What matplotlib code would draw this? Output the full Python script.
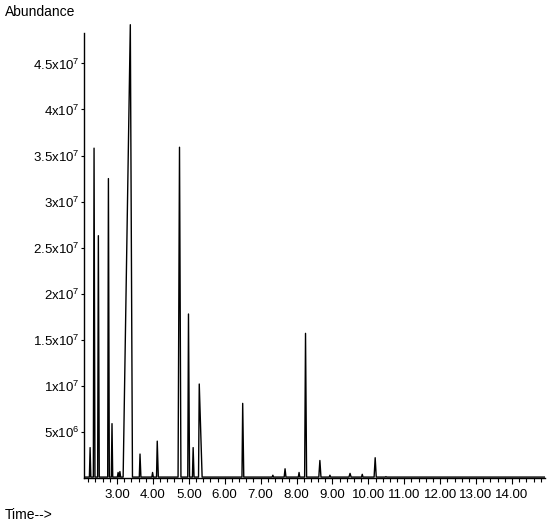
import matplotlib

matplotlib.use("Agg")
import matplotlib.pyplot as plt
from matplotlib.ticker import FixedLocator, MultipleLocator

plt.rcParams["font.family"] = ["Liberation Sans", "DejaVu Sans"]
plt.rcParams["mathtext.fontset"] = "custom"
plt.rcParams["mathtext.rm"] = "Liberation Sans"

# peaks: retention time (min), abundance (x1e6),
# base half-widths left/right (min)
peak_rt = [2.25, 2.36, 2.48, 2.76, 2.86, 3.03, 3.08, 3.37, 3.64, 3.99, 4.12,
           4.74, 4.99, 5.12, 5.29, 6.50, 7.34, 7.68, 8.07, 8.25, 8.65, 8.93,
           9.49, 9.83, 10.19, 10.49]
peak_height = [3.3, 35.8, 26.3, 32.5, 5.9, 0.6, 0.7, 49.2, 2.6, 0.6, 4.0,
               35.9, 17.8, 3.3, 10.2, 8.1, 0.3, 1.0, 0.6, 15.7, 1.9, 0.3,
               0.5, 0.4, 2.2, 0.15]
peak_wl = [0.02, 0.02, 0.02, 0.02, 0.02, 0.02, 0.02, 0.20, 0.02, 0.02, 0.02,
           0.04, 0.02, 0.02, 0.02, 0.02, 0.02, 0.025, 0.02, 0.025, 0.03, 0.02,
           0.03, 0.02, 0.03, 0.02]
peak_wr = [0.02, 0.025, 0.025, 0.025, 0.02, 0.02, 0.02, 0.06, 0.025, 0.02, 0.03,
           0.04, 0.03, 0.025, 0.08, 0.03, 0.02, 0.025, 0.02, 0.03, 0.03, 0.02,
           0.03, 0.02, 0.03, 0.02]
baseline = 0.1
t_start, t_end = 2.10, 14.90

ytick_vals = [5e6, 1e7, 1.5e7, 2e7, 2.5e7, 3e7, 3.5e7, 4e7, 4.5e7]
ytick_labels = ["5x10$^6$", "1x10$^7$", "1.5x10$^7$", "2x10$^7$", "2.5x10$^7$",
                "3x10$^7$", "3.5x10$^7$", "4x10$^7$", "4.5x10$^7$"]
xtick_vals = list(range(3, 15))
xtick_labels = [f"{v:.2f}" for v in xtick_vals]

# trace vertices: baseline - apex - baseline for every peak
ts, ys = [t_start], [baseline]
for rt, h, wl, wr in zip(peak_rt, peak_height, peak_wl, peak_wr):
    ts += [rt - wl, rt, rt + wr]
    ys += [baseline, h, baseline]
ts.append(t_end)
ys.append(baseline)
ys = [v * 1e6 for v in ys]

fig = plt.figure(figsize=(5.5, 5.27), dpi=100)
ax = fig.add_axes([84 / 550, 49 / 527, 461 / 550, 445 / 527])
ax.plot(ts, ys, color="black", lw=1.0, clip_on=False, zorder=3)
ax.set_xlim(2.08, 14.92)
ax.set_ylim(0, 4.83e7)

for s in ("top", "right"):
    ax.spines[s].set_visible(False)
for s in ("left", "bottom"):
    ax.spines[s].set_linewidth(1.0)

ax.yaxis.set_major_locator(FixedLocator(ytick_vals))
ax.set_yticklabels(ytick_labels, fontsize=9.5)
ax.xaxis.set_major_locator(FixedLocator(xtick_vals))
ax.set_xticklabels(xtick_labels, fontsize=9.5)
ax.xaxis.set_minor_locator(MultipleLocator(0.2))
ax.tick_params(axis="y", length=2, width=0.8, pad=1)
ax.tick_params(axis="x", which="major", length=4, width=0.8, pad=4)
ax.tick_params(axis="x", which="minor", length=3, width=0.8)

fig.text(5 / 550, 1 - 12 / 527, "Abundance", fontsize=10, va="center", ha="left")
fig.text(5 / 550, 1 - 515 / 527, "Time-->", fontsize=10, va="center", ha="left")

fig.savefig("out.png", dpi=100)
